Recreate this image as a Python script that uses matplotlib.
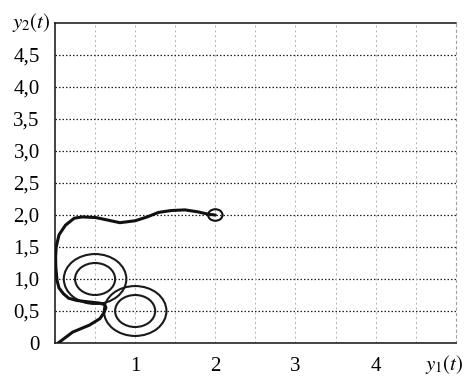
import matplotlib
matplotlib.use("Agg")
import matplotlib.pyplot as plt
from matplotlib.patches import Circle

plt.rcParams['font.family'] = ['Liberation Serif', 'DejaVu Serif']
plt.rcParams['mathtext.fontset'] = 'stix'

# trajectory (y1, y2)
path_y1 = [0.04, 0.22, 0.43, 0.56, 0.61, 0.635, 0.62, 0.55, 0.40, 0.27, 0.17,
           0.105, 0.05, 0.025, 0.01, 0.008, 0.015, 0.05, 0.13, 0.24, 0.34,
           0.51, 0.66, 0.81, 1.0, 1.15, 1.29, 1.45, 1.62, 1.78, 1.92, 2.0]
path_y2 = [0.0, 0.17, 0.28, 0.38, 0.47, 0.55, 0.60, 0.625, 0.645, 0.665, 0.70,
           0.77, 0.86, 0.98, 1.19, 1.35, 1.50, 1.69, 1.84, 1.95, 1.97,
           1.96, 1.92, 1.88, 1.91, 1.97, 2.04, 2.07, 2.08, 2.05, 2.01, 2.0]

# limit cycles: centres and radii
ring_cx = [0.5, 0.5, 1.0, 1.0]
ring_cy = [1.0, 1.0, 0.5, 0.5]
ring_r = [0.25, 0.39, 0.25, 0.39]

# equilibrium marker
eq_x, eq_y, eq_r = 2.0, 2.0, 0.09

xticks = [1, 2, 3, 4]
yticks = [0, 0.5, 1.0, 1.5, 2.0, 2.5, 3.0, 3.5, 4.0, 4.5]
ytick_labels = ['0', '0,5', '1,0', '1,5', '2,0', '2,5', '3,0', '3,5', '4,0', '4,5']
grid_steps = [0.5, 1.0, 1.5, 2.0, 2.5, 3.0, 3.5, 4.0, 4.5]

fig = plt.figure(figsize=(4.68, 3.78), dpi=100)
ax = fig.add_axes([0.1175, 0.0926, 0.8565, 0.8465])
ax.set_xlim(0, 5)
ax.set_ylim(0, 5)

for g in grid_steps:
    ax.axvline(g, color='#b0b0b0', lw=0.7, ls=(0, (2, 3)), zorder=1)
    ax.axhline(g, color='#222222', lw=0.9, ls=(0, (1.2, 1.6)), zorder=1)

for cx, cy, r in zip(ring_cx, ring_cy, ring_r):
    ax.add_patch(Circle((cx, cy), r, fill=False, ec='#1a1a1a', lw=1.5, zorder=3))

ax.plot(path_y1, path_y2, color='#111111', lw=2.2, solid_capstyle='round',
        solid_joinstyle='round', zorder=4)
ax.add_patch(Circle((eq_x, eq_y), eq_r, fill=False, ec='#111111', lw=1.5, zorder=5))

ax.set_xticks(xticks)
ax.set_xticklabels([str(v) for v in xticks])
ax.set_yticks(yticks)
ax.set_yticklabels(ytick_labels)
ax.tick_params(axis='both', length=0, labelsize=15)
ax.tick_params(axis='x', pad=10)
ax.tick_params(axis='y', pad=11)

for side in ['left', 'bottom', 'top']:
    ax.spines[side].set_color('#111111')
    ax.spines[side].set_linewidth(1.1)
ax.spines['right'].set_color('#a0a0a0')
ax.spines['right'].set_linestyle((0, (2, 3)))
ax.spines['right'].set_linewidth(0.8)

fig.text(0.026, 0.94, r'$y_2(t)$', fontsize=15, ha='left', va='center')
fig.text(0.95, 0.035, r'$y_1(t)$', fontsize=15, ha='center', va='center')

fig.savefig('out.png', dpi=100)
